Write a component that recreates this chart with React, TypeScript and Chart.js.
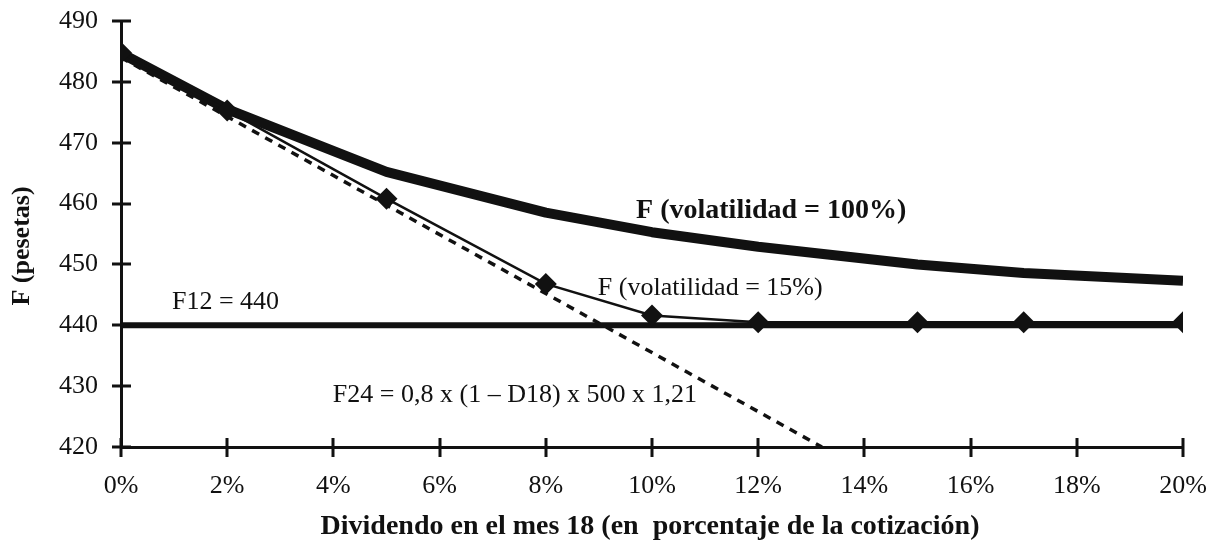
import React, { useEffect, useRef } from "react";
import { Chart, registerables } from "chart.js";

Chart.register(...registerables);

// Dividend in month 18, as percent of the share price
const dividendPct = [0, 2, 5, 8, 10, 12, 15, 17, 20];
// Forward price F for two volatilities (pesetas)
const fVol100 = [484.7, 475.5, 465.2, 458.5, 455.3, 452.9, 450.0, 448.6, 447.3];
const fVol15 = [484.8, 475.3, 460.8, 446.8, 441.6, 440.5, 440.5, 440.5, 440.5];
// F12 = 440 reference level
const f12X = [0, 20];
const f12Y = [440, 440];
// F24 = 0,8 x (1 - D18) x 500 x 1,21 straight line
const f24X = [0, 13.2];
const f24Y = [484, 420];

const yTicks = [420, 430, 440, 450, 460, 470, 480, 490];
const xTicks = [0, 2, 4, 6, 8, 10, 12, 14, 16, 18, 20];

const INK = "#111111";
const SERIF = '"Liberation Serif", "Times New Roman", serif';

const pts = (xs: number[], ys: number[]) => xs.map((x, i) => ({ x, y: ys[i] }));

// Scales keep no extra edge padding; the outer layout padding positions the plot
const noEdgePadding = (s: any) => {
  s.paddingTop = 0;
  s.paddingBottom = 0;
  s.paddingLeft = 0;
  s.paddingRight = 0;
};

export default function App() {
  const canvasRef = useRef<HTMLCanvasElement | null>(null);

  useEffect(() => {
    const canvas = canvasRef.current;
    if (!canvas) return;

    // Tick marks that cross the axis lines
    const crossTicks = {
      id: "crossTicks",
      afterDraw(chart: any) {
        const { ctx, scales, chartArea } = chart;
        ctx.save();
        ctx.strokeStyle = INK;
        ctx.lineWidth = 3;
        ctx.beginPath();
        yTicks.forEach((v) => {
          const y = Math.round(scales.y.getPixelForValue(v));
          ctx.moveTo(chartArea.left - 9, y);
          ctx.lineTo(chartArea.left + 10, y);
        });
        xTicks.forEach((v) => {
          const x = Math.round(scales.x.getPixelForValue(v));
          ctx.moveTo(x, chartArea.bottom - 9);
          ctx.lineTo(x, chartArea.bottom + 10);
        });
        ctx.stroke();
        ctx.restore();
      },
    };

    // Series captions and axis titles
    const captions = {
      id: "captions",
      afterDraw(chart: any) {
        const { ctx, scales } = chart;
        const sx = scales.x;
        const sy = scales.y;
        ctx.save();
        ctx.fillStyle = INK;
        ctx.textBaseline = "middle";
        ctx.textAlign = "left";
        ctx.font = `bold 28px ${SERIF}`;
        ctx.fillText("F (volatilidad = 100%)", sx.getPixelForValue(9.7), sy.getPixelForValue(458.8));
        ctx.font = `26px ${SERIF}`;
        ctx.fillText("F (volatilidad = 15%)", sx.getPixelForValue(8.98), sy.getPixelForValue(446.1));
        ctx.fillText("F12 = 440", sx.getPixelForValue(0.96), sy.getPixelForValue(443.8));
        ctx.fillText("F24 = 0,8 x (1 – D18) x 500 x 1,21", sx.getPixelForValue(3.99), sy.getPixelForValue(428.5));

        ctx.font = `bold 28px ${SERIF}`;
        ctx.textAlign = "center";
        ctx.fillText(
          "Dividendo en el mes 18 (en  porcentaje de la cotización)",
          (sx.left + sx.right) / 2 - 2,
          527
        );
        ctx.font = `bold 26px ${SERIF}`;
        ctx.translate(22, 246);
        ctx.rotate(-Math.PI / 2);
        ctx.fillText("F (pesetas)", 0, 0);
        ctx.restore();
      },
    };

    const chart = new Chart(canvas, {
      type: "line",
      data: {
        datasets: [
          {
            label: "F (volatilidad = 15%)",
            data: pts(dividendPct, fVol15),
            borderColor: INK,
            backgroundColor: INK,
            borderWidth: 2.5,
            pointStyle: "rectRot",
            pointRadius: 11,
            pointBorderWidth: 0,
            tension: 0,
            order: 0,
          },
          {
            label: "F (volatilidad = 100%)",
            data: pts(dividendPct, fVol100),
            borderColor: INK,
            borderWidth: 10,
            pointRadius: 0,
            tension: 0,
            borderJoinStyle: "round",
            order: 1,
          },
          {
            label: "F12 = 440",
            data: pts(f12X, f12Y),
            borderColor: INK,
            borderWidth: 6,
            pointRadius: 0,
            order: 2,
          },
          {
            label: "F24",
            data: pts(f24X, f24Y),
            borderColor: INK,
            borderWidth: 3.5,
            borderDash: [8, 7],
            pointRadius: 0,
            order: 3,
          },
        ],
      },
      options: {
        responsive: false,
        animation: false,
        layout: { padding: { top: 21, right: 32, left: 0, bottom: 0 } },
        plugins: {
          legend: { display: false },
          tooltip: { enabled: false },
        },
        scales: {
          x: {
            type: "linear",
            min: 0,
            max: 20,
            afterFit: (s: any) => {
              s.height = 109;
              noEdgePadding(s);
            },
            afterBuildTicks: (s: any) => {
              s.ticks = xTicks.map((v) => ({ value: v }));
            },
            grid: { display: true, drawOnChartArea: false, drawTicks: false },
            border: { display: true, width: 3, color: INK },
            ticks: {
              padding: 24,
              color: INK,
              font: { family: SERIF, size: 26 },
              callback: (v: any) => `${v}%`,
              maxRotation: 0,
              autoSkip: false,
            },
          },
          y: {
            type: "linear",
            min: 420,
            max: 490,
            afterFit: (s: any) => {
              s.width = 121;
              noEdgePadding(s);
            },
            afterBuildTicks: (s: any) => {
              s.ticks = yTicks.map((v) => ({ value: v }));
            },
            grid: { display: true, drawOnChartArea: false, drawTicks: false },
            border: { display: true, width: 3, color: INK },
            ticks: {
              padding: 23,
              color: INK,
              font: { family: SERIF, size: 26 },
              autoSkip: false,
            },
          },
        },
      },
      plugins: [crossTicks, captions],
    } as any);

    return () => chart.destroy();
  }, []);

  return (
    <canvas
      ref={canvasRef}
      width={1215}
      height={556}
      style={{ position: "absolute", left: 0, top: 0, display: "block", background: "#fff" }}
    />
  );
}
